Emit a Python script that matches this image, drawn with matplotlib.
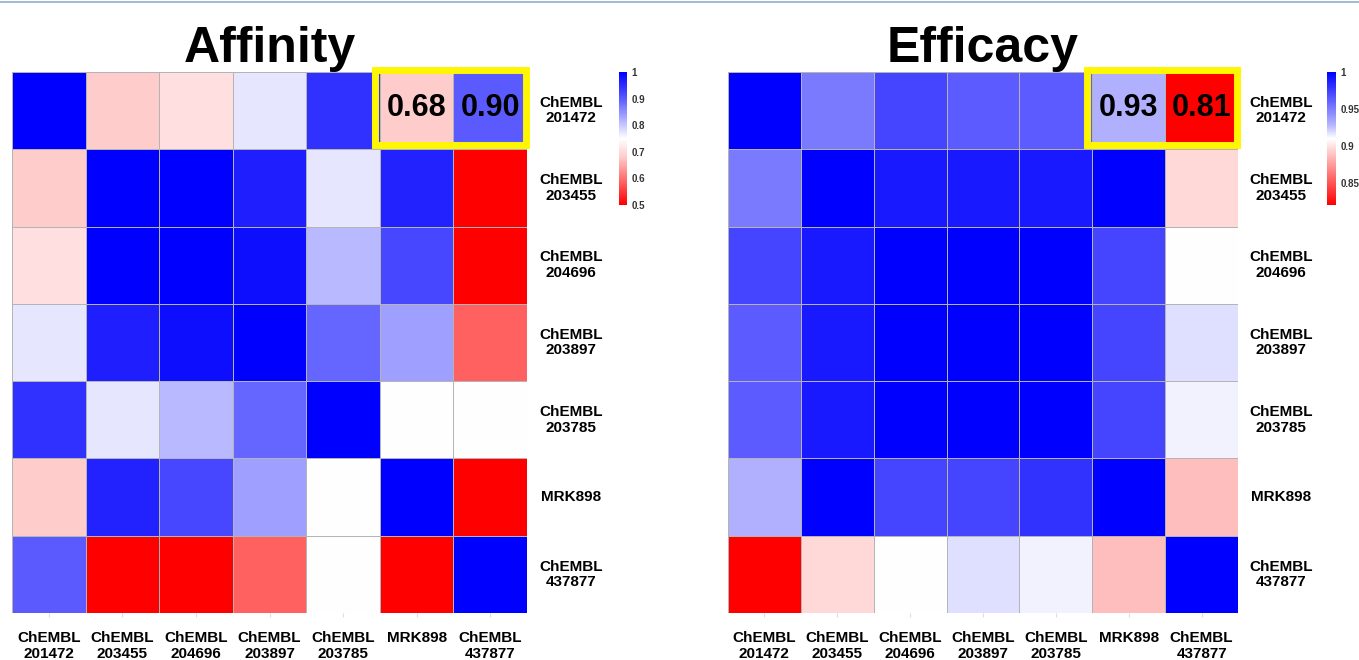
import numpy as np
import matplotlib.pyplot as plt
from matplotlib.colors import LinearSegmentedColormap, Normalize
from matplotlib.patches import Rectangle
from matplotlib.lines import Line2D

plt.rcParams['font.family'] = ['Liberation Sans', 'DejaVu Sans']

# ── Dados ─────────────────────────────────────────────────────────────────────
compostos = ['ChEMBL\n201472', 'ChEMBL\n203455', 'ChEMBL\n204696', 'ChEMBL\n203897',
             'ChEMBL\n203785', 'MRK898', 'ChEMBL\n437877']

afinidade = np.array([
    [1.000, 0.680, 0.707, 0.773, 0.944, 0.680, 0.900],
    [0.680, 1.000, 1.000, 0.966, 0.773, 0.961, 0.500],
    [0.707, 1.000, 1.000, 0.983, 0.813, 0.921, 0.500],
    [0.773, 0.966, 0.983, 1.000, 0.890, 0.836, 0.584],
    [0.944, 0.773, 0.813, 0.890, 1.000, 0.750, 0.750],
    [0.680, 0.961, 0.921, 0.836, 0.750, 1.000, 0.500],
    [0.900, 0.500, 0.500, 0.584, 0.750, 0.500, 1.000],
])

eficacia = np.array([
    [1.000, 0.951, 0.972, 0.964, 0.964, 0.930, 0.810],
    [0.951, 1.000, 0.990, 0.990, 0.990, 1.000, 0.896],
    [0.972, 0.990, 1.000, 1.000, 1.000, 0.972, 0.910],
    [0.964, 0.990, 1.000, 1.000, 1.000, 0.972, 0.918],
    [0.964, 0.990, 1.000, 1.000, 1.000, 0.972, 0.913],
    [0.930, 1.000, 0.972, 0.972, 0.980, 1.000, 0.887],
    [0.810, 0.896, 0.910, 0.918, 0.913, 0.887, 1.000],
])

afin_ticks = [0.5, 0.6, 0.7, 0.8, 0.9, 1.0]
afin_ticklabels = ['0.5', '0.6', '0.7', '0.8', '0.9', '1']
efic_ticks = [0.85, 0.9, 0.95, 1.0]
efic_ticklabels = ['0.85', '0.9', '0.95', '1']

# âncoras da escala de cor (valor, cor)
afin_ancoras = [(0.50, '#FF0000'), (0.68, '#FFCCCC'), (0.75, '#FFFFFF'),
                (0.90, '#5A5AFF'), (1.00, '#0000FF')]
efic_ancoras = [(0.82, '#FF0000'), (0.91, '#FFFFFF'), (0.93, '#B0B0FF'), (1.00, '#0000FF')]

def escala(ancoras):
    v0, v1 = ancoras[0][0], ancoras[-1][0]
    cmap = LinearSegmentedColormap.from_list(
        'rwb', [((v - v0) / (v1 - v0), c) for v, c in ancoras])
    return cmap, Normalize(v0, v1)

# ── Figura ────────────────────────────────────────────────────────────────────
W, H = 1359, 660
fig = plt.figure(figsize=(W / 100, H / 100), dpi=100)

def px(x0, y0, x1, y1):
    return [x0 / W, 1 - y1 / H, (x1 - x0) / W, (y1 - y0) / H]

fig.add_artist(Line2D([0, 1], [1 - 1.5 / H, 1 - 1.5 / H], color='#8FAFCB', lw=1.2))

paineis = [
    ('Affinity', afinidade, afin_ancoras, px(12, 72, 527, 613),
     px(619, 72, 627, 205), afin_ticks, afin_ticklabels, ['0.68', '0.90']),
    ('Efficacy', eficacia, efic_ancoras, px(728, 72, 1238, 613),
     px(1327, 72, 1336, 205), efic_ticks, efic_ticklabels, ['0.93', '0.81']),
]

for titulo, dados, ancoras, pos, cpos, cticks, clabels, anot in paineis:
    cmap, norm = escala(ancoras)
    ax = fig.add_axes(pos)
    n = dados.shape[0]
    m = ax.pcolormesh(np.arange(n + 1), np.arange(n + 1), dados, cmap=cmap, norm=norm,
                      edgecolors='#B4B4B4', linewidth=0.5)
    ax.set_xlim(0, n)
    ax.set_ylim(n, 0)
    for s in ax.spines.values():
        s.set_visible(False)
    ax.set_xticks(np.arange(n) + 0.5)
    ax.set_xticklabels(compostos, fontsize=11, fontweight='bold', linespacing=1.15)
    ax.tick_params(axis='x', length=3, color='#DDDDDD', pad=10)
    ax.set_yticks([])
    for i, nome in enumerate(compostos):
        ax.text(1.085, i + 0.5, nome, transform=ax.get_yaxis_transform(),
                ha='center', va='center', fontsize=11, fontweight='bold', linespacing=1.15)
    ax.set_title(titulo, fontsize=36, fontweight='bold', pad=6)

    # destaque amarelo
    ax.add_patch(Rectangle((4.93, -0.02), 2.05, 0.96, fill=False, edgecolor='#FFF700',
                           lw=5, clip_on=False, zorder=5))
    for j, t in zip([5, 6], anot):
        ax.text(j + 0.5, 0.47, t, ha='center', va='center', fontsize=22,
                fontweight='bold', zorder=6)

    cax = fig.add_axes(cpos)
    cb = fig.colorbar(m, cax=cax)
    cb.outline.set_visible(False)
    cb.set_ticks(cticks)
    cb.set_ticklabels(clabels)
    cax.tick_params(length=0, labelsize=7, pad=3, labelcolor='#333333')
    for lab in cax.get_yticklabels():
        lab.set_fontweight('bold')

fig.savefig('out.png', dpi=100)
